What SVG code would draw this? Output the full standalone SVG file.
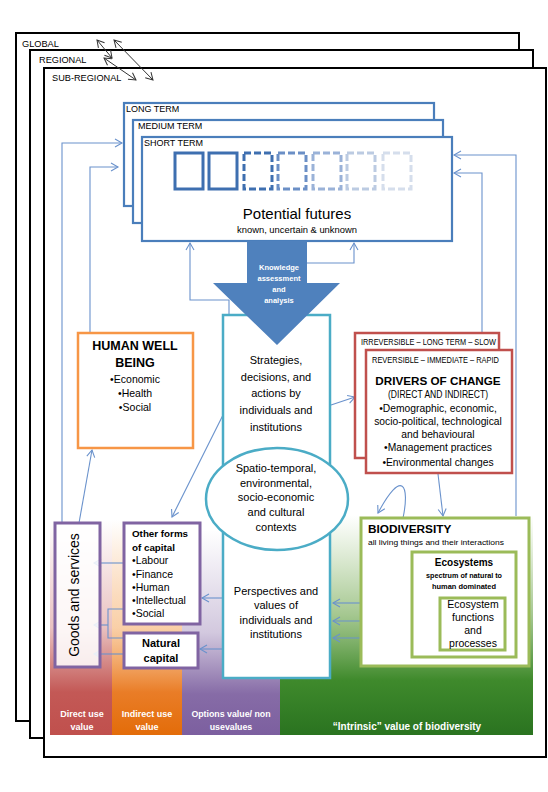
<svg xmlns="http://www.w3.org/2000/svg" width="548" height="792" viewBox="0 0 548 792">
<defs>
<style>
text{font-family:'Liberation Sans',Arial,sans-serif;fill:#000}
.frame{fill:#fff;stroke:#000;stroke-width:2}
.flabel{font-size:9.2px}
.tf{fill:#fff;stroke:#4a7ebb;stroke-width:2.2}
.tlabel{font-size:9px}
.conn{fill:none;stroke:#6a92cc;stroke-width:1.1;marker-end:url(#ah)}
.plain{fill:none;stroke:#6a92cc;stroke-width:1.1}
.dbl{fill:none;stroke:#333;stroke-width:1;marker-end:url(#ahk);marker-start:url(#ahks)}
.c{text-anchor:middle}
.b{font-weight:bold}
.wl{fill:#fff;font-weight:bold}
</style>
<marker id="ah" markerUnits="userSpaceOnUse" markerWidth="10" markerHeight="10" refX="8" refY="5" orient="auto">
<path d="M1,1 L8,5 L1,9" fill="none" stroke="#6a92cc" stroke-width="1.1"/>
</marker>
<marker id="ahk" markerUnits="userSpaceOnUse" markerWidth="10" markerHeight="10" refX="8" refY="5" orient="auto">
<path d="M1,1 L8,5 L1,9" fill="none" stroke="#333" stroke-width="1"/>
</marker>
<marker id="ahks" markerUnits="userSpaceOnUse" markerWidth="10" markerHeight="10" refX="8" refY="5" orient="auto-start-reverse">
<path d="M1,1 L8,5 L1,9" fill="none" stroke="#333" stroke-width="1"/>
</marker>
<linearGradient id="gRed" gradientUnits="userSpaceOnUse" x1="0" y1="520" x2="0" y2="735">
<stop offset="0" stop-color="#c0504d" stop-opacity="0"/>
<stop offset="0.5" stop-color="#c0504d" stop-opacity="0.35"/>
<stop offset="0.8" stop-color="#c0504d" stop-opacity="0.95"/>
<stop offset="1" stop-color="#c0504d"/>
</linearGradient>
<linearGradient id="gOrange" gradientUnits="userSpaceOnUse" x1="0" y1="520" x2="0" y2="735">
<stop offset="0" stop-color="#f08a2a" stop-opacity="0"/>
<stop offset="0.5" stop-color="#f4a050" stop-opacity="0.5"/>
<stop offset="0.8" stop-color="#e8761c" stop-opacity="0.95"/>
<stop offset="1" stop-color="#e36c09"/>
</linearGradient>
<linearGradient id="gPurple" gradientUnits="userSpaceOnUse" x1="0" y1="530" x2="0" y2="735">
<stop offset="0" stop-color="#8064a2" stop-opacity="0"/>
<stop offset="0.5" stop-color="#8064a2" stop-opacity="0.35"/>
<stop offset="0.8" stop-color="#8064a2" stop-opacity="0.95"/>
<stop offset="1" stop-color="#7c5f9f"/>
</linearGradient>
<linearGradient id="gGreen" gradientUnits="userSpaceOnUse" x1="0" y1="515" x2="0" y2="735">
<stop offset="0" stop-color="#7fb05a" stop-opacity="0"/>
<stop offset="0.45" stop-color="#6aa348" stop-opacity="0.6"/>
<stop offset="0.75" stop-color="#3f8a2c"/>
<stop offset="1" stop-color="#2a7320"/>
</linearGradient>
</defs>

<g id="frames">
<rect class="frame" x="16" y="33" width="503" height="688"/>
<text class="flabel" x="22" y="47">GLOBAL</text>
<rect class="frame" x="30" y="50" width="503" height="688"/>
<text class="flabel" x="39" y="63">REGIONAL</text>
<rect class="frame" x="44" y="68" width="502" height="689"/>
<text class="flabel" x="52" y="81">SUB-REGIONAL</text>
<line class="dbl" x1="97" y1="40" x2="112" y2="58"/>
<line class="dbl" x1="104" y1="58" x2="136" y2="80"/>
<line class="dbl" x1="114" y1="40" x2="153" y2="80"/>
</g>

<g id="value-bands">
<rect x="50" y="520" width="62" height="215" fill="url(#gRed)"/>
<rect x="112" y="520" width="70" height="215" fill="url(#gOrange)"/>
<rect x="182" y="520" width="98" height="215" fill="url(#gPurple)"/>
<rect x="280" y="515" width="253" height="220" fill="url(#gGreen)"/>
<text class="wl c" x="82" y="717" font-size="9">Direct use</text>
<text class="wl c" x="82" y="730" font-size="9">value</text>
<text class="wl c" x="147" y="717" font-size="9">Indirect use</text>
<text class="wl c" x="147" y="730" font-size="9">value</text>
<text class="wl c" x="231" y="717" font-size="8.8">Options value/ non</text>
<text class="wl c" x="231" y="730" font-size="8.8">usevalues</text>
<text class="wl c" x="407" y="730" font-size="10">“Intrinsic” value of biodiversity</text>
</g>

<g id="time-frames">
<rect class="tf" x="124" y="103" width="310" height="103"/>
<text class="tlabel" x="126" y="112">LONG TERM</text>
<rect class="tf" x="133" y="120" width="310" height="103"/>
<text class="tlabel" x="138" y="129" font-size="9.3">MEDIUM TERM</text>
<rect class="tf" x="142" y="137" width="310" height="104"/>
<text class="tlabel" x="144" y="146">SHORT TERM</text>
</g>

<g id="potential-futures">
<g fill="none" stroke-width="3">
<rect x="175" y="153" width="28" height="36" stroke="#3e6fb0"/>
<rect x="209" y="153" width="28" height="36" stroke="#3e6fb0"/>
<rect x="244" y="153" width="28" height="36" stroke="#3e6fb0" stroke-dasharray="7,3"/>
<rect x="278" y="153" width="28" height="36" stroke="#6b8fc6" stroke-dasharray="7,3"/>
<rect x="313" y="153" width="28" height="36" stroke="#9ab2d8" stroke-dasharray="7,3"/>
<rect x="347" y="153" width="28" height="36" stroke="#bccbe2" stroke-dasharray="7,3"/>
<rect x="383" y="153" width="28" height="36" stroke="#d5deec" stroke-dasharray="7,3"/>
</g>
<text class="c" x="297" y="219" font-size="15">Potential futures</text>
<text class="c" x="297" y="233" font-size="9.4">known, uncertain &amp; unknown</text>
</g>

<g id="connectors">
<polyline class="conn" points="62,523 62,143 122,143"/>
<polyline class="conn" points="90,333 90,167 118,167"/>
<line class="conn" x1="79" y1="523" x2="92" y2="450"/>
<polyline class="conn" points="229,315 229,300 190,300 190,243"/>
<polyline class="conn" points="307,263 354,263 354,243"/>
<polyline class="conn" points="516,516 516,155 454,155"/>
<polyline class="conn" points="482,333 482,173 454,173"/>
<line class="conn" x1="331" y1="405" x2="355" y2="397"/>
<line class="conn" x1="438" y1="474" x2="443" y2="516"/>
<path class="conn" d="M403,518 C410,485 402,468 378,513"/>
<line class="conn" x1="361" y1="603" x2="333" y2="603"/>
<line class="conn" x1="412" y1="621" x2="333" y2="621"/>
<line class="conn" x1="440" y1="638" x2="333" y2="638"/>
<line class="conn" x1="223" y1="598" x2="202" y2="598"/>
<line class="conn" x1="223" y1="649" x2="200" y2="649"/>
<line class="conn" x1="223" y1="415" x2="172" y2="517"/>
<line class="conn" x1="124" y1="563" x2="94" y2="563"/>
<polyline class="plain" points="124,609 108,609 108,638 124,638"/>
<line class="conn" x1="108" y1="625" x2="94" y2="625"/>
<line class="conn" x1="124" y1="654" x2="94" y2="654"/>
</g>

<g id="strategies">
<rect x="223" y="315" width="107" height="363" fill="#fff" stroke="#4bacc6" stroke-width="2.5"/>
<g class="c" font-size="11">
<text class="c" x="276" y="364">Strategies,</text>
<text class="c" x="276" y="381">decisions, and</text>
<text class="c" x="276" y="397">actions by</text>
<text class="c" x="276" y="414">individuals and</text>
<text class="c" x="276" y="431">institutions</text>
<text class="c" x="276" y="595">Perspectives and</text>
<text class="c" x="276" y="609">values of</text>
<text class="c" x="276" y="624">individuals and</text>
<text class="c" x="276" y="638">institutions</text>
</g>
</g>

<g id="contexts">
<ellipse cx="277" cy="499" rx="71" ry="51" fill="#fff" stroke="#4bacc6" stroke-width="2.5"/>
<g font-size="11">
<text class="c" x="276" y="472">Spatio-temporal,</text>
<text class="c" x="276" y="487">environmental,</text>
<text class="c" x="276" y="501">socio-economic</text>
<text class="c" x="276" y="516">and cultural</text>
<text class="c" x="276" y="531">contexts</text>
</g>
</g>

<g id="knowledge-arrow">
<polygon points="247,241 307,241 307,283 340,283 277,345 213,283 247,283" fill="#4f81bd"/>
<g font-size="7.5">
<text class="wl c" x="279" y="270">Knowledge</text>
<text class="wl c" x="279" y="281">assessment</text>
<text class="wl c" x="279" y="292">and</text>
<text class="wl c" x="279" y="303">analysis</text>
</g>
</g>

<g id="human-well-being">
<rect x="78" y="333" width="115" height="115" fill="#fff" stroke="#f79646" stroke-width="2.5"/>
<text class="c b" x="135" y="350" font-size="12.5">HUMAN WELL</text>
<text class="c b" x="135" y="367" font-size="12.5">BEING</text>
<text class="c" x="135" y="383" font-size="10.5">•Economic</text>
<text class="c" x="135" y="397" font-size="10.5">•Health</text>
<text class="c" x="135" y="411" font-size="10.5">•Social</text>
</g>

<g id="drivers-of-change">
<rect x="355" y="333" width="144" height="125" fill="#fff" stroke="#c0504d" stroke-width="2.5"/>
<text x="361" y="345" font-size="8.5" textLength="135" lengthAdjust="spacingAndGlyphs">IRREVERSIBLE – LONG TERM – SLOW</text>
<rect x="366" y="350" width="146" height="123" fill="#fff" stroke="#c0504d" stroke-width="2.5"/>
<text x="372" y="363" font-size="8.5" textLength="127" lengthAdjust="spacingAndGlyphs">REVERSIBLE – IMMEDIATE – RAPID</text>
<text class="c b" x="438" y="385" font-size="11.7">DRIVERS OF CHANGE</text>
<text class="c" x="438" y="398" font-size="10" textLength="100" lengthAdjust="spacingAndGlyphs">(DIRECT AND INDIRECT)</text>
<g font-size="10.3">
<text class="c" x="438" y="412">•Demographic, economic,</text>
<text class="c" x="438" y="425">socio-political, technological</text>
<text class="c" x="438" y="438">and behavioural</text>
<text class="c" x="438" y="451">•Management practices</text>
<text class="c" x="438" y="466">•Environmental changes</text>
</g>
</g>

<g id="biodiversity">
<rect x="361" y="518" width="168" height="148" fill="#fff" stroke="#9bbb59" stroke-width="3"/>
<text class="b" x="368" y="533" font-size="11.8">BIODIVERSITY</text>
<text x="368" y="545" font-size="8" textLength="136" lengthAdjust="spacingAndGlyphs">all living things and their interactions</text>
</g>
<g id="ecosystems">
<rect x="412" y="552" width="104" height="105" fill="#fff" stroke="#9bbb59" stroke-width="3"/>
<text class="c b" x="464" y="566" font-size="10">Ecosystems</text>
<text class="c b" x="464" y="578" font-size="7.5" textLength="76" lengthAdjust="spacingAndGlyphs">spectrum of natural to</text>
<text class="c b" x="464" y="589" font-size="7.5" textLength="64" lengthAdjust="spacingAndGlyphs">human dominated</text>
</g>
<g id="ecosystem-functions">
<rect x="440" y="598" width="65" height="52" fill="#fff" stroke="#9bbb59" stroke-width="3"/>
<g font-size="10.5">
<text class="c" x="473" y="608">Ecosystem</text>
<text class="c" x="473" y="621">functions</text>
<text class="c" x="473" y="634">and</text>
<text class="c" x="473" y="647">processes</text>
</g>
</g>

<g id="goods-and-services">
<rect x="55" y="523" width="45" height="144" fill="#fff" fill-opacity="0.85" stroke="#8064a2" stroke-width="3"/>
<text class="c" transform="translate(79,595) rotate(-90)" font-size="14">Goods and services</text>
</g>

<g id="other-capital">
<rect x="124" y="523" width="76" height="101" fill="#fff" stroke="#8064a2" stroke-width="3"/>
<text class="b" x="132" y="537" font-size="9.8">Other forms</text>
<text class="b" x="132" y="551" font-size="9.8">of capital</text>
<g font-size="10.5">
<text x="132" y="564">•Labour</text>
<text x="132" y="578">•Finance</text>
<text x="132" y="591">•Human</text>
<text x="132" y="604">•Intellectual</text>
<text x="132" y="617">•Social</text>
</g>
</g>

<g id="natural-capital">
<rect x="124" y="633" width="74" height="35" fill="#fff" stroke="#8064a2" stroke-width="3"/>
<text class="c b" x="161" y="647" font-size="11">Natural</text>
<text class="c b" x="161" y="662" font-size="11">capital</text>
</g>
</svg>
